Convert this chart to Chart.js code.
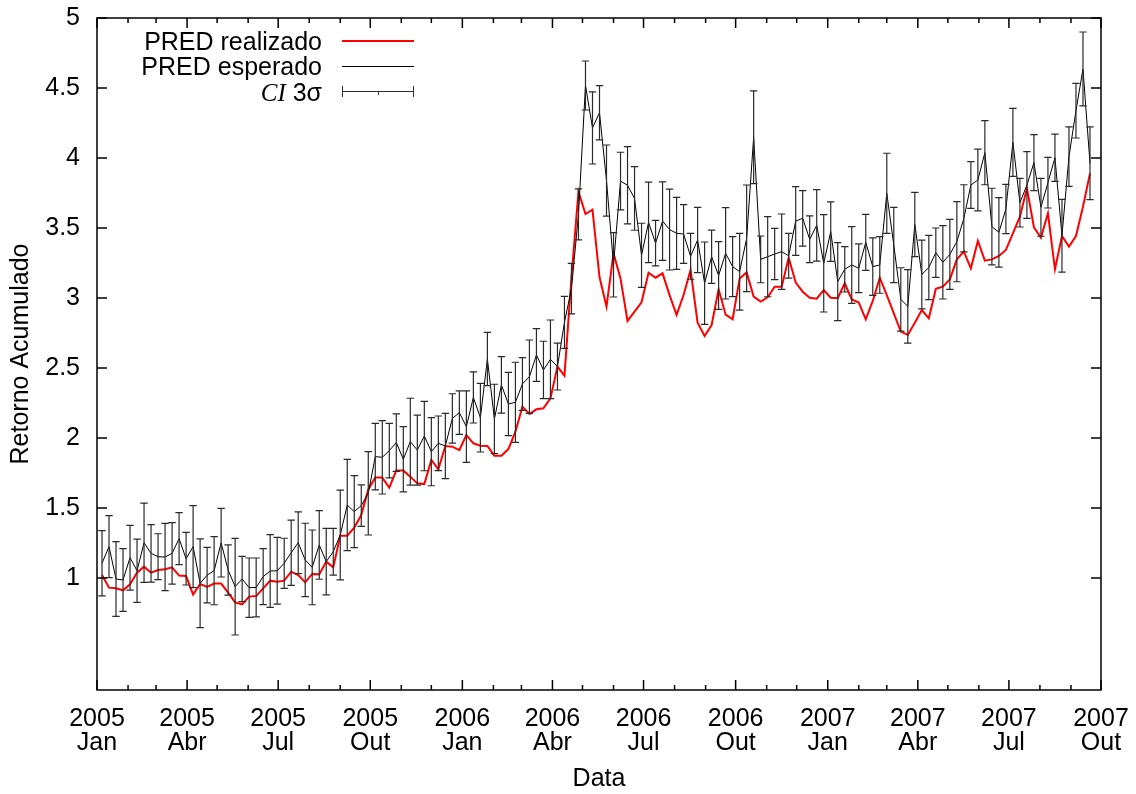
<!DOCTYPE html>
<html>
<head>
<meta charset="utf-8">
<script src="https://cdn.jsdelivr.net/npm/chart.js@4.4.0/dist/chart.umd.min.js"></script>
<style>
  html, body { margin: 0; padding: 0; background: #fff; }
  #wrap { position: relative; width: 1136px; height: 794px; }
  #legend { position: absolute; left: 0; top: 0; font-family: "Liberation Sans", Arial, sans-serif; font-size: 25px; color: #000; }
  .lab { position: absolute; left: 0; width: 322px; text-align: right; line-height: 26px; white-space: nowrap; }
  .ci { font-family: "Liberation Serif", "DejaVu Serif", serif; font-style: italic; }
  .smp { position: absolute; background: #000; }
</style>
</head>
<body>
<div id="wrap">
  <canvas id="retChart" width="1136" height="794"></canvas>
  <div id="legend">
    <div class="lab" style="top:28px">PRED realizado</div>
    <div class="smp" style="left:342px;top:40px;width:72px;height:2px;background:#ff0000"></div>
    <div class="lab" style="top:53px">PRED esperado</div>
    <div class="smp" style="left:342px;top:66px;width:72px;height:1px"></div>
    <div class="lab" style="top:79px"><span class="ci">CI</span> 3σ</div>
    <div class="smp" style="left:342px;top:91px;width:72px;height:1px;background:#333"></div>
    <div class="smp" style="left:342px;top:86px;width:1px;height:11px;background:#333"></div>
    <div class="smp" style="left:413px;top:86px;width:1px;height:11px;background:#333"></div>
    <div class="smp" style="left:378px;top:91px;width:1px;height:4px;background:#333"></div>
  </div>
</div>
<script>
const FONT = '"Liberation Sans", Arial, sans-serif';

// weekly series
const realizado = [
  1.021, 0.931, 0.926, 0.912, 0.955, 1.038, 1.081, 1.038, 1.057, 1.062,
  1.076, 1.017, 1.014, 0.881, 0.957, 0.936, 0.960, 0.960, 0.895, 0.826,
  0.812, 0.867, 0.871, 0.926, 0.981, 0.974, 0.981, 1.045, 1.021, 0.969,
  1.029, 1.026, 1.117, 1.076, 1.302, 1.302, 1.360, 1.450, 1.633, 1.717,
  1.717, 1.645, 1.767, 1.767, 1.724, 1.676, 1.671, 1.843, 1.776, 1.943,
  1.938, 1.914, 2.021, 1.962, 1.945, 1.943, 1.874, 1.874, 1.921, 2.045,
  2.224, 2.171, 2.205, 2.212, 2.283, 2.510, 2.445, 3.150, 3.760, 3.600,
  3.631, 3.150, 2.938, 3.319, 3.140, 2.836, 2.902, 2.969, 3.181, 3.145,
  3.176, 3.021, 2.879, 3.021, 3.200, 2.824, 2.729, 2.807, 3.062, 2.881,
  2.848, 3.140, 3.183, 3.010, 2.974, 3.005, 3.081, 3.081, 3.288, 3.110,
  3.045, 3.002, 2.995, 3.057, 3.002, 2.998, 3.105, 2.990, 2.967, 2.848,
  2.979, 3.145, 3.021, 2.890, 2.760, 2.736, 2.824, 2.914, 2.855, 3.065,
  3.081, 3.133, 3.276, 3.331, 3.212, 3.407, 3.267, 3.276, 3.300, 3.343,
  3.462, 3.581, 3.783, 3.505, 3.431, 3.605, 3.205, 3.443, 3.367, 3.443,
  3.652, 3.890
];
const esperado = [
  1.105, 1.224, 0.993, 0.986, 1.145, 1.052, 1.252, 1.176, 1.152, 1.150,
  1.176, 1.281, 1.138, 1.224, 0.962, 1.021, 1.052, 1.252, 1.057, 0.938,
  0.993, 0.931, 0.933, 1.010, 1.050, 1.052, 1.105, 1.181, 1.252, 1.129,
  1.076, 1.236, 1.117, 1.188, 1.307, 1.521, 1.474, 1.517, 1.605, 1.867,
  1.862, 1.910, 1.967, 1.848, 1.974, 1.914, 2.014, 1.902, 1.962, 1.943,
  2.140, 2.181, 2.081, 2.290, 2.145, 2.564, 2.136, 2.379, 2.243, 2.255,
  2.386, 2.438, 2.593, 2.486, 2.562, 2.510, 2.826, 3.067, 3.597, 4.518,
  4.215, 4.323, 3.839, 3.237, 3.835, 3.805, 3.711, 3.305, 3.540, 3.392,
  3.549, 3.489, 3.462, 3.457, 3.298, 3.414, 3.106, 3.295, 3.161, 3.319,
  3.224, 3.188, 3.426, 4.148, 3.276, 3.295, 3.314, 3.331, 3.302, 3.550,
  3.569, 3.419, 3.519, 3.248, 3.474, 3.117, 3.205, 3.236, 3.212, 3.398,
  3.224, 3.236, 3.748, 3.379, 2.990, 2.940, 3.525, 3.168, 3.218, 3.324,
  3.255, 3.312, 3.402, 3.569, 3.807, 3.843, 4.038, 3.510, 3.469, 3.636,
  4.112, 3.681, 3.807, 3.967, 3.648, 3.824, 4.002, 3.445, 4.010, 4.338,
  4.636, 3.962
];
// half width of the 3-sigma interval around esperado
const ci3s = [
  0.233, 0.221, 0.267, 0.224, 0.231, 0.226, 0.283, 0.205, 0.164, 0.240,
  0.220, 0.186, 0.188, 0.293, 0.317, 0.198, 0.243, 0.245, 0.180, 0.345,
  0.162, 0.212, 0.210, 0.200, 0.260, 0.238, 0.179, 0.233, 0.221, 0.262,
  0.267, 0.245, 0.238, 0.167, 0.321, 0.326, 0.257, 0.148, 0.298, 0.238,
  0.262, 0.195, 0.205, 0.233, 0.310, 0.250, 0.248, 0.243, 0.195, 0.233,
  0.176, 0.155, 0.255, 0.183, 0.245, 0.190, 0.248, 0.202, 0.226, 0.286,
  0.188, 0.262, 0.188, 0.205, 0.281, 0.167, 0.186, 0.181, 0.182, 0.175,
  0.258, 0.194, 0.254, 0.230, 0.206, 0.276, 0.227, 0.229, 0.288, 0.163,
  0.280, 0.289, 0.257, 0.210, 0.164, 0.233, 0.294, 0.190, 0.242, 0.326,
  0.214, 0.274, 0.381, 0.331, 0.167, 0.286, 0.183, 0.269, 0.160, 0.245,
  0.198, 0.167, 0.255, 0.348, 0.212, 0.279, 0.162, 0.274, 0.174, 0.200,
  0.205, 0.202, 0.286, 0.269, 0.226, 0.262, 0.229, 0.245, 0.229, 0.176,
  0.262, 0.250, 0.286, 0.240, 0.167, 0.221, 0.229, 0.274, 0.248, 0.176,
  0.243, 0.174, 0.238, 0.200, 0.207, 0.181, 0.169, 0.260, 0.212, 0.195,
  0.264, 0.260
];

const tickYears = ["2005", "2005", "2005", "2005", "2006", "2006", "2006", "2006", "2007", "2007", "2007", "2007"];
const tickMonths = ["Jan", "Abr", "Jul", "Out", "Jan", "Abr", "Jul", "Out", "Jan", "Abr", "Jul", "Out"];
const yTicks = [1, 1.5, 2, 2.5, 3, 3.5, 4, 4.5, 5];

// x axis in days since 2005-01-01
const DAY = 86400000;
const T0 = Date.UTC(2005, 0, 1);
const dayOf = (y, m, d = 1) => (Date.UTC(y, m, d) - T0) / DAY;
const firstWeek = dayOf(2005, 0, 6);
const xs = realizado.map((_, i) => firstWeek + 7 * i);
const quarterDays = tickYears.map((_, i) => dayOf(2005, 3 * i));
const monthDays = [];
for (let m = 0; m <= 33; m++) monthDays.push(dayOf(2005, m));

const framePlugin = {
  id: "frame",
  afterDatasetsDraw(chart) {
    const { ctx, chartArea: a, scales: { x, y } } = chart;
    ctx.save();
    // error bars
    ctx.strokeStyle = "#2a2a2a";
    ctx.lineWidth = 1.2;
    ctx.beginPath();
    xs.forEach((d, i) => {
      const px = x.getPixelForValue(d);
      const lo = y.getPixelForValue(esperado[i] - ci3s[i]);
      const hi = y.getPixelForValue(esperado[i] + ci3s[i]);
      ctx.moveTo(px, lo); ctx.lineTo(px, hi);
      ctx.moveTo(px - 3.7, lo); ctx.lineTo(px + 3.7, lo);
      ctx.moveTo(px - 3.7, hi); ctx.lineTo(px + 3.7, hi);
    });
    ctx.stroke();

    // border and inward ticks
    ctx.strokeStyle = "#000";
    ctx.lineWidth = 1.5;
    ctx.strokeRect(a.left, a.top, a.right - a.left, a.bottom - a.top);
    ctx.beginPath();
    yTicks.forEach((v) => {
      const py = y.getPixelForValue(v);
      ctx.moveTo(a.left, py); ctx.lineTo(a.left + 10, py);
      ctx.moveTo(a.right, py); ctx.lineTo(a.right - 10, py);
    });
    monthDays.forEach((d, m) => {
      const px = x.getPixelForValue(d);
      const len = m % 3 === 0 ? 10 : 5;
      ctx.moveTo(px, a.bottom); ctx.lineTo(px, a.bottom - len);
      ctx.moveTo(px, a.top); ctx.lineTo(px, a.top + len);
    });
    ctx.stroke();
    ctx.restore();
  },
};

const ctx = document.getElementById("retChart").getContext("2d");
new Chart(ctx, {
  type: "line",
  data: {
    datasets: [
      {
        label: "PRED esperado",
        data: xs.map((d, i) => ({ x: d, y: esperado[i] })),
        borderColor: "#000",
        borderWidth: 1,
        pointRadius: 0,
        tension: 0,
        order: 1,
      },
      {
        label: "PRED realizado",
        data: xs.map((d, i) => ({ x: d, y: realizado[i] })),
        borderColor: "#ff0000",
        borderWidth: 2,
        pointRadius: 0,
        tension: 0,
        order: 2,
      },
    ],
  },
  options: {
    responsive: false,
    animation: false,
    layout: { padding: { top: 18, right: 35, left: 0, bottom: 0 } },
    plugins: { legend: { display: false }, tooltip: { enabled: false } },
    scales: {
      x: {
        type: "linear",
        min: 0,
        max: dayOf(2007, 9),
        grid: { display: false, drawTicks: false },
        border: { display: false },
        afterBuildTicks: (s) => { s.ticks = quarterDays.map((v) => ({ value: v })); },
        afterFit: (s) => { s.height = 104; s.paddingLeft = 0; s.paddingRight = 0; },
        ticks: {
          autoSkip: false,
          maxRotation: 0,
          padding: 17,
          color: "#000",
          font: { family: FONT, size: 25, lineHeight: 0.97 },
          callback: (v, i) => [tickYears[i], tickMonths[i]],
        },
        title: {
          display: true,
          text: "Data",
          color: "#000",
          font: { family: FONT, size: 25 },
          padding: { top: 0, bottom: 0 },
        },
      },
      y: {
        min: 0.2,
        max: 5,
        grid: { display: false, drawTicks: false },
        border: { display: false },
        afterBuildTicks: (s) => { s.ticks = yTicks.map((v) => ({ value: v })); },
        afterFit: (s) => { s.width = 97; s.paddingTop = 0; s.paddingBottom = 0; },
        ticks: {
          padding: 17,
          color: "#000",
          font: { family: FONT, size: 25 },
          callback: (v) => String(v),
        },
        title: {
          display: true,
          text: "Retorno Acumulado",
          color: "#000",
          font: { family: FONT, size: 25 },
          padding: { top: 6, bottom: 0 },
        },
      },
    },
  },
  plugins: [framePlugin],
});
</script>
</body>
</html>
